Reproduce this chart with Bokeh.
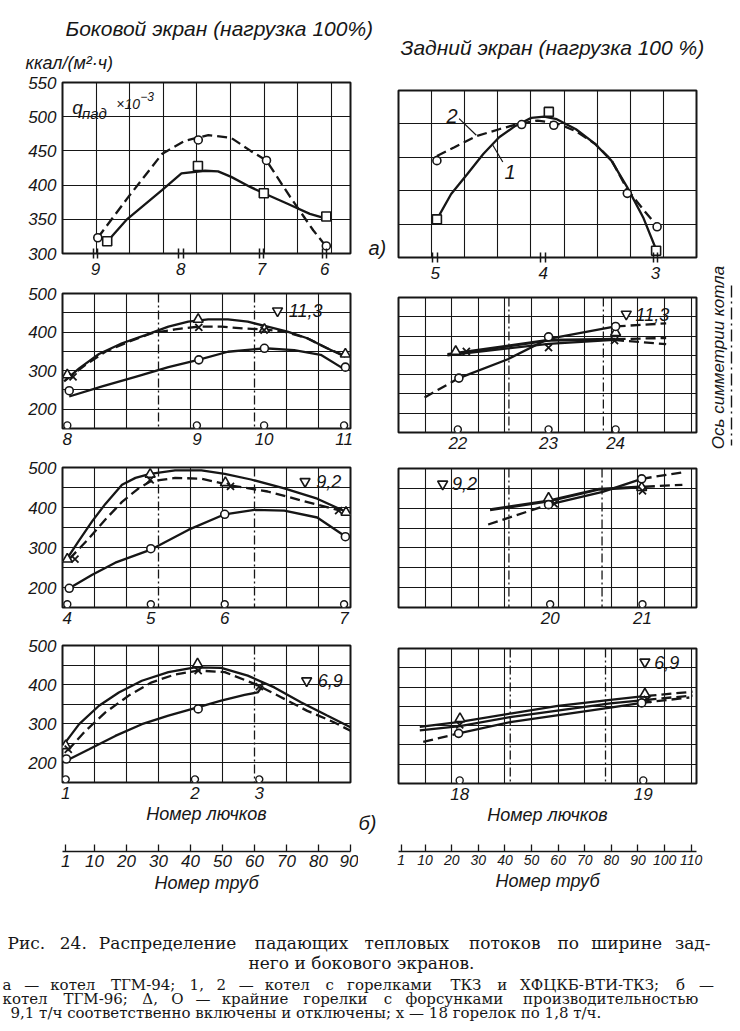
import numpy as np
from bokeh.plotting import figure
from bokeh.layouts import row, column
from bokeh.models import FixedTicker, Span, Label, Range1d
from bokeh.embed import file_html
from bokeh.resources import INLINE
from bokeh.core.properties import value

FONT = "Liberation Sans, Arial, sans-serif"
SERIF = "DejaVu Serif, Liberation Serif, serif"
INK = "#161616"

# ===================== DATA =====================
# ---- a) boiler TGM-94, side screen (x in grid cells, y in kcal/(m2 h) x 1e-3)
A_L_TICK_POS = [0.98, 3.52, 5.92, 7.80]
A_L_TICK_LAB = ["9", "8", "7", "6"]
A_L_SQ_X = [1.33, 4.03, 5.99, 7.85]
A_L_SQ_Y = [318, 428, 388, 354]
A_L_CI_X = [1.05, 4.04, 6.07, 7.85]
A_L_CI_Y = [323, 466, 436, 311]
A_L_C1_X = [1.34, 1.90, 2.97, 3.54, 4.24, 4.63, 5.02, 5.60, 5.99, 6.68, 7.36, 7.85]
A_L_C1_Y = [318, 349, 393, 417, 421, 420, 412, 397, 388, 373, 358, 351]
A_L_C2_X = [1.05, 1.95, 2.97, 3.65, 4.34, 5.02, 5.60, 6.07, 6.77, 7.46, 7.85]
A_L_C2_Y = [323, 382, 446, 465, 473, 469, 450, 436, 383, 334, 310]

# ---- a) boiler TGM-94, rear screen
A_R_TICK_POS = [1.11, 4.37, 7.76]
A_R_TICK_LAB = ["5", "4", "3"]
A_R_SQ_X = [1.16, 4.54, 7.78]
A_R_SQ_Y = [357, 518, 310]
A_R_CI_X = [1.16, 3.72, 4.69, 6.91, 7.81]
A_R_CI_Y = [445, 499, 498, 396, 346]
A_R_C1_X = [1.16, 1.59, 2.08, 2.56, 3.04, 3.53, 4.01, 4.40, 4.78, 5.36, 5.94, 6.43, 6.91, 7.39, 7.78]
A_R_C1_Y = [357, 395, 425, 455, 480, 497, 509, 511, 507, 492, 470, 445, 405, 360, 312]
A_R_C2_X = [1.16, 1.69, 2.37, 3.04, 3.62, 4.20, 4.78, 5.36, 5.94, 6.43, 6.91, 7.39, 7.81]
A_R_C2_Y = [452, 465, 482, 492, 500, 505, 501, 489, 470, 446, 402, 372, 347]
A_R_LEAD2_X = [1.83, 2.35]
A_R_LEAD2_Y = [508, 483]
A_R_LEAD1_X = [3.15, 2.85]
A_R_LEAD1_Y = [443, 468]

# ---- b) boiler TGM-96 (x = tube number)
HATCH_Y = 158
# side screen, load 11.3
B_L_TICK_POS = [1.5, 42, 63, 88]
B_L_TICK_LAB = ["8", "9", "10", "11"]
B_L_BURN = [30, 60]
B_L_TRI_X = [1.5, 42.4, 63.1, 88.4]
B_L_TRI_Y = [289, 433, 407, 343]
B_L_X_X = [3.3, 42.6, 63.0]
B_L_X_Y = [284, 412, 405]
B_L_CI_X = [2.1, 42.6, 63.1, 88.4]
B_L_CI_Y = [248, 328, 358, 309]
B_L_TRI_LX = [0.5, 5.2, 11.4, 18.6, 25.9, 33.1, 39.3, 45.5, 51.7, 57.9, 64.1, 70.3, 76.5, 82.7, 88.4]
B_L_TRI_LY = [272, 306, 343, 371, 392, 414, 427, 433, 433, 427, 414, 401, 384, 358, 336]
B_L_X_LX = [1.0, 7.2, 13.4, 20.7, 27.9, 35.2, 42.4, 49.6, 56.9, 63.1, 69.3, 76.5, 82.7, 88.4]
B_L_X_LY = [276, 315, 349, 375, 397, 407, 414, 414, 409, 407, 401, 384, 358, 338]
B_L_CI_LX = [2.1, 12.4, 22.8, 33.1, 42.4, 51.7, 63.1, 72.4, 80.7, 88.4]
B_L_CI_LY = [233, 259, 284, 309, 328, 349, 358, 353, 341, 302]
B_L_LOAD = ("11,3", 67.2, 455)

# rear screen, load 11.3
B_R_TICK_POS = [22.3, 56.4, 81.6]
B_R_TICK_LAB = ["22", "23", "24"]
B_R_BURN = [41.5, 77]
B_R_TRI_X = [21.5, 81.6]
B_R_TRI_Y = [360, 409]
B_R_X_X = [25.5, 56.4, 81.2]
B_R_X_Y = [360, 370, 388]
B_R_CI_X = [22.7, 56.4, 81.6]
B_R_CI_Y = [291, 398, 425]
B_R_TRI_LX = [18.4, 56.4, 81.6]
B_R_TRI_LY = [352, 389, 392]
B_R_TRI_EX = [81.6, 100.6]
B_R_TRI_EY = [392, 395]
B_R_X_LX = [18.4, 56.4, 81.0]
B_R_X_LY = [350, 380, 390]
B_R_X_EX = [81.0, 100.6]
B_R_X_EY = [390, 379]
B_R_CI_DX = [9.8, 22.7]
B_R_CI_DY = [241, 291]
B_R_CI_LX = [22.7, 41.1, 56.4, 81.6]
B_R_CI_LY = [291, 340, 393, 425]
B_R_CI_EX = [81.6, 100.6]
B_R_CI_EY = [425, 433]
B_R_LOAD = ("11,3", 85.6, 457)

# side screen, load 9.2
C_L_TICK_POS = [1.5, 27.6, 50.7, 88]
C_L_TICK_LAB = ["4", "5", "6", "7"]
C_L_BURN = [30, 60]
C_L_TRI_X = [1.5, 27.4, 50.9, 88.6]
C_L_TRI_Y = [271, 483, 462, 388]
C_L_X_X = [3.9, 27.4, 52.5, 86.3]
C_L_X_Y = [271, 469, 453, 392]
C_L_CI_X = [2.1, 27.6, 50.7, 88.4]
C_L_CI_Y = [198, 297, 383, 327]
C_L_TRI_LX = [1.0, 5.2, 9.3, 13.4, 18.6, 22.8, 27.4, 35.2, 43.4, 50.7, 58.9, 69.3, 79.6, 88.9]
C_L_TRI_LY = [267, 318, 366, 409, 457, 474, 484, 493, 493, 484, 470, 448, 422, 388]
C_L_X_LX = [2.1, 8.3, 13.4, 18.6, 23.8, 27.4, 35.2, 43.4, 52.7, 64.1, 74.5, 86.9]
C_L_X_LY = [271, 323, 370, 414, 448, 465, 474, 472, 455, 440, 418, 392]
C_L_CI_LX = [2.1, 9.3, 16.5, 27.4, 39.3, 50.7, 60.0, 69.3, 79.6, 88.9]
C_L_CI_LY = [198, 232, 262, 294, 344, 383, 394, 392, 375, 325]
C_L_LOAD = ("9,2", 75.8, 465)

# rear screen, load 9.2
C_R_TICK_POS = [57, 91.7]
C_R_TICK_LAB = ["20", "21"]
C_R_BURN = [41.5, 76.5]
C_R_TRI_X = [56.4, 91.4]
C_R_TRI_Y = [425, 452]
C_R_X_X = [58.5, 91.7]
C_R_X_Y = [411, 444]
C_R_CI_X = [56.4, 91.4]
C_R_CI_Y = [409, 474]
C_R_TRI_LX = [34.4, 56.4, 75.5, 92.6]
C_R_TRI_LY = [396, 418, 448, 454]
C_R_TRI_EX = [92.6, 106.7]
C_R_TRI_EY = [454, 459]
C_R_CI_DX = [33.7, 56.4]
C_R_CI_DY = [359, 409]
C_R_CI_LX = [56.4, 76.7, 91.4]
C_R_CI_LY = [409, 441, 474]
C_R_CI_EX = [91.4, 107.4]
C_R_CI_EY = [474, 491]
C_R_LOAD = ("9,2", 16.6, 461)

# side screen, load 6.9
D_L_TICK_POS = [1.0, 41.4, 61.5]
D_L_TICK_LAB = ["1", "2", "3"]
D_L_BURN = [60]
D_L_TRI_X = [1.0, 42.2]
D_L_TRI_Y = [244, 453]
D_L_X_X = [1.8, 42.4, 61.5]
D_L_X_Y = [235, 436, 395]
D_L_CI_X = [1.2, 42.4]
D_L_CI_Y = [210, 338]
D_L_TRI_LX = [0.5, 5.2, 11.4, 17.6, 24.8, 33.1, 41.4, 49.6, 57.9, 66.2, 74.5, 82.7, 90]
D_L_TRI_LY = [248, 299, 346, 380, 410, 432, 444, 443, 423, 393, 355, 321, 291]
D_L_X_LX = [1.5, 7.2, 13.4, 20.7, 27.9, 35.2, 42.4, 50.7, 60.0, 68.3, 76.5, 84.8, 90]
D_L_X_LY = [231, 282, 329, 372, 406, 426, 436, 432, 402, 368, 333, 304, 282]
D_L_CI_LX = [1.0, 8.3, 16.5, 24.8, 33.1, 41.4, 49.6, 56.9, 61.0, 62.6]
D_L_CI_LY = [205, 235, 269, 299, 321, 340, 359, 374, 380, 398]
D_L_LOAD = ("6,9", 76.3, 410)

# rear screen, load 6.9
D_R_TICK_POS = [23, 92]
D_R_TICK_LAB = ["18", "19"]
D_R_BURN = [42, 77.8]
D_R_TRI_X = [23.1, 92.6]
D_R_TRI_Y = [318, 382]
D_R_X_X = [23.0, 93.5]
D_R_X_Y = [302, 368]
D_R_CI_X = [22.6, 91.4]
D_R_CI_Y = [280, 359]
D_R_TRI_LX = [8.0, 23.1, 42.6, 59.9, 79.6, 93.2]
D_R_TRI_LY = [297, 310, 332, 351, 367, 377]
D_R_TRI_EX = [93.2, 110.5]
D_R_TRI_EY = [377, 388]
D_R_X_LX = [8.0, 23.1, 42.6, 79.6, 93.2]
D_R_X_LY = [288, 299, 323, 358, 367]
D_R_X_EX = [93.2, 110.5]
D_R_X_EY = [367, 378]
D_R_CI_DX = [9.3, 22.6]
D_R_CI_DY = [258, 280]
D_R_CI_LX = [22.6, 42.6, 79.6, 91.4]
D_R_CI_LY = [280, 310, 347, 359]
D_R_CI_EX = [91.4, 109.3]
D_R_CI_EY = [359, 373]
D_R_LOAD = ("6,9", 92.6, 465)

TUBES_LEFT = [1, 10, 20, 30, 40, 50, 60, 70, 80, 90]
TUBES_RIGHT = [1, 10, 20, 30, 40, 50, 60, 70, 80, 90, 100, 110]

TITLE_LEFT = "Боковой экран (нагрузка 100%)"
TITLE_RIGHT = "Задний экран (нагрузка 100 %)"
UNITS = "ккал/(м²·ч)"
CAPTION_1 = "Рис. 24. Распределение падающих тепловых потоков по ширине зад-"
CAPTION_2 = "него и бокового экранов."
CAPTION_3 = "а — котел ТГМ-94; 1, 2 — котел с горелками ТКЗ и ХФЦКБ-ВТИ-ТКЗ; б —"
CAPTION_4 = "котел ТГМ-96; Δ, О — крайние горелки с форсунками производительностью"
CAPTION_5 = "9,1 т/ч соответственно включены и отключены; х — 18 горелок по 1,8 т/ч."

# ===================== HELPERS =====================
def style_text(ax, size="17px"):
    ax.major_label_text_font = FONT
    ax.major_label_text_font_style = "italic"
    ax.major_label_text_font_size = size
    ax.major_label_text_color = INK


def blank(w, h, xr, yr):
    p = figure(width=w, height=h, x_range=Range1d(*xr), y_range=Range1d(*yr),
               output_backend="svg", toolbar_location=None, min_border=0)
    p.axis.visible = False
    p.grid.visible = False
    p.outline_line_color = None
    p.background_fill_color = "white"
    p.border_fill_color = "white"
    return p


def panel(w, h, xr, yr, borders, xgrid, ygrid, tick_pos, tick_lab,
          yticks=None, burners=(), double=False, xlabel=None):
    bl, br, bt, bb = borders
    p = figure(width=w, height=h, x_range=Range1d(*xr), y_range=Range1d(*yr),
               output_backend="svg", toolbar_location=None,
               min_border_left=bl, min_border_right=br,
               min_border_top=bt, min_border_bottom=bb)
    p.background_fill_color = "white"
    p.border_fill_color = "white"
    p.outline_line_color = INK
    p.outline_line_width = 2
    p.xgrid.ticker = FixedTicker(ticks=xgrid)
    p.ygrid.ticker = FixedTicker(ticks=ygrid)
    p.grid.grid_line_color = INK
    p.grid.grid_line_width = 1.1
    p.grid.grid_line_alpha = 1.0
    ax = p.xaxis[0]
    ax.major_tick_in = 0
    ax.major_tick_out = 0
    ax.major_tick_line_color = None
    if double:
        minor = [t - 0.07 for t in tick_pos] + [t + 0.07 for t in tick_pos]
        ax.ticker = FixedTicker(ticks=tick_pos, minor_ticks=minor)
        ax.minor_tick_in = 5
        ax.minor_tick_out = 5
        ax.minor_tick_line_color = INK
        ax.minor_tick_line_width = 1.5
    else:
        ax.ticker = FixedTicker(ticks=tick_pos)
        ax.minor_tick_line_color = None
    ax.axis_line_color = None
    ax.major_label_overrides = dict(zip(tick_pos, tick_lab))
    ax.major_label_standoff = 4
    style_text(ax)
    if xlabel:
        ax.axis_label = xlabel
        ax.axis_label_standoff = 2
        ax.axis_label_text_font = FONT
        ax.axis_label_text_font_style = "italic"
        ax.axis_label_text_font_size = "18px"
        ax.axis_label_text_color = INK
    yax = p.yaxis[0]
    if yticks:
        yax.ticker = FixedTicker(ticks=yticks)
        yax.major_tick_in = 0
        yax.major_tick_out = 0
        yax.major_tick_line_color = None
        yax.minor_tick_line_color = None
        yax.axis_line_color = None
        yax.major_label_standoff = 6
        style_text(yax)
    else:
        yax.visible = False
    for b in burners:
        p.add_layout(Span(location=b, dimension="height", line_color=INK,
                          line_width=1.3, line_dash="9 3 2 3", level="underlay"))
    return p


def solid(p, x, y, w=2.3):
    p.line(x, y, line_color=INK, line_width=w)


def dashed(p, x, y, w=2.3):
    p.line(x, y, line_color=INK, line_width=w, line_dash="10 5")


def pts(p, x, y, marker, size=8):
    p.scatter(x, y, marker=marker, size=size, fill_color="white",
              line_color=INK, line_width=1.6)


def crosses(p, x, y):
    p.scatter(x, y, marker="x", size=10, line_color=INK, line_width=1.8)


def lab(p, x, y, text, size="18px", align="left", style="italic", angle=0, font=FONT):
    p.add_layout(Label(x=x, y=y, text=text, text_font=font, text_font_style=style,
                       text_font_size=size, text_color=INK, text_baseline="middle",
                       text_align=align, angle=angle))


def load_mark(p, spec, dx):
    txt, x, y = spec
    p.scatter([x], [y], marker="inverted_triangle", size=10, fill_color="white",
              line_color=INK, line_width=1.6)
    lab(p, x + dx, y, txt, size="18px")


def hatches(p, xs):
    p.scatter(xs, [HATCH_Y] * len(xs), marker="circle", size=7,
              fill_color="white", line_color=INK, line_width=1.4)


Y_B = [150, 200, 250, 300, 350, 400, 450, 500]
Y_B_TICKS = [200, 300, 400, 500]
XG_L = [10, 20, 40, 50, 70, 80]
XG_R = [10, 20, 30, 40, 50, 60, 70, 80, 90, 100, 110]
LW, RW = 358, 320   # column widths

# ===================== header =====================
head = blank(738, 72, (0, 738), (72, 0))
lab(head, 65, 28, TITLE_LEFT, size="21px")
lab(head, 400, 47, TITLE_RIGHT, size="21px")
lab(head, 25, 62, UNITS, size="18px")

# ===================== ROW a) =====================
aL = panel(LW, 211, (0, 8.57), (300, 550), (62, 3, 10, 30),
           [1, 2, 3, 4, 5, 6, 7, 8], [350, 400, 450, 500],
           A_L_TICK_POS, A_L_TICK_LAB, yticks=[300, 350, 400, 450, 500, 550], double=True)
solid(aL, A_L_C1_X, A_L_C1_Y)
dashed(aL, A_L_C2_X, A_L_C2_Y)
pts(aL, A_L_SQ_X, A_L_SQ_Y, "square", 9)
pts(aL, A_L_CI_X, A_L_CI_Y, "circle", 8)
lab(aL, 0.29, 514, "q", size="19px")
lab(aL, 0.58, 505, "пад", size="15px")
lab(aL, 1.60, 519, "×10", size="14px")
lab(aL, 2.31, 530, "−3", size="12px")

aR = panel(RW, 211, (0, 9), (300, 550), (8, 2, 18, 26),
           [1, 2, 3, 4, 5, 6, 7, 8], [350, 400, 450, 500],
           A_R_TICK_POS, A_R_TICK_LAB, double=True)
solid(aR, A_R_C1_X, A_R_C1_Y)
dashed(aR, A_R_C2_X, A_R_C2_Y)
aR.line(A_R_LEAD2_X, A_R_LEAD2_Y, line_color=INK, line_width=1.2)
aR.line(A_R_LEAD1_X, A_R_LEAD1_Y, line_color=INK, line_width=1.2)
pts(aR, A_R_SQ_X, A_R_SQ_Y, "square", 9)
pts(aR, A_R_CI_X, A_R_CI_Y, "circle", 8)
lab(aR, 1.45, 512, "2", size="20px")
lab(aR, 3.2, 428, "1", size="20px")

# ===================== ROW b) 11.3 =====================
bL = panel(LW, 172, (0, 90), (150, 500), (60, 8, 10, 27), XG_L, Y_B,
           B_L_TICK_POS, B_L_TICK_LAB, yticks=Y_B_TICKS, burners=B_L_BURN)
solid(bL, B_L_TRI_LX, B_L_TRI_LY)
dashed(bL, B_L_X_LX, B_L_X_LY)
solid(bL, B_L_CI_LX, B_L_CI_LY)
pts(bL, B_L_TRI_X, B_L_TRI_Y, "triangle", 10)
crosses(bL, B_L_X_X, B_L_X_Y)
pts(bL, B_L_CI_X, B_L_CI_Y, "circle")
hatches(bL, B_L_TICK_POS)
load_mark(bL, B_L_LOAD, 3.5)

bR = panel(RW, 172, (0, 112), (150, 500), (6, 10, 14, 23), XG_R, Y_B,
           B_R_TICK_POS, B_R_TICK_LAB, burners=B_R_BURN)
solid(bR, B_R_TRI_LX, B_R_TRI_LY, 3)
dashed(bR, B_R_TRI_EX, B_R_TRI_EY)
solid(bR, B_R_X_LX, B_R_X_LY)
dashed(bR, B_R_X_EX, B_R_X_EY)
dashed(bR, B_R_CI_DX, B_R_CI_DY)
solid(bR, B_R_CI_LX, B_R_CI_LY)
dashed(bR, B_R_CI_EX, B_R_CI_EY)
pts(bR, B_R_TRI_X, B_R_TRI_Y, "triangle", 10)
crosses(bR, B_R_X_X, B_R_X_Y)
pts(bR, B_R_CI_X, B_R_CI_Y, "circle")
hatches(bR, B_R_TICK_POS)
load_mark(bR, B_R_LOAD, 3.5)

# ===================== ROW c) 9.2 =====================
cL = panel(LW, 173, (0, 90), (150, 500), (60, 8, 12, 21), XG_L, Y_B,
           C_L_TICK_POS, C_L_TICK_LAB, yticks=Y_B_TICKS, burners=C_L_BURN)
solid(cL, C_L_TRI_LX, C_L_TRI_LY)
dashed(cL, C_L_X_LX, C_L_X_LY)
solid(cL, C_L_CI_LX, C_L_CI_LY)
pts(cL, C_L_TRI_X, C_L_TRI_Y, "triangle", 10)
crosses(cL, C_L_X_X, C_L_X_Y)
pts(cL, C_L_CI_X, C_L_CI_Y, "circle")
hatches(cL, C_L_TICK_POS)
load_mark(cL, C_L_LOAD, 3.5)

cR = panel(RW, 173, (0, 112), (150, 500), (6, 10, 13, 21), XG_R, Y_B,
           C_R_TICK_POS, C_R_TICK_LAB, burners=C_R_BURN)
solid(cR, C_R_TRI_LX, C_R_TRI_LY, 3)
dashed(cR, C_R_TRI_EX, C_R_TRI_EY)
dashed(cR, C_R_CI_DX, C_R_CI_DY)
solid(cR, C_R_CI_LX, C_R_CI_LY)
dashed(cR, C_R_CI_EX, C_R_CI_EY)
pts(cR, C_R_TRI_X, C_R_TRI_Y, "triangle", 10)
crosses(cR, C_R_X_X, C_R_X_Y)
pts(cR, C_R_CI_X, C_R_CI_Y, "circle")
hatches(cR, C_R_TICK_POS)
load_mark(cR, C_R_LOAD, 3.5)

# ===================== ROW d) 6.9 =====================
dL = panel(LW, 202, (0, 90), (150, 500), (60, 8, 17, 48), [10, 20, 30, 40, 50, 70, 80], Y_B,
           D_L_TICK_POS, D_L_TICK_LAB, yticks=Y_B_TICKS, burners=D_L_BURN,
           xlabel="Номер лючков")
solid(dL, D_L_TRI_LX, D_L_TRI_LY)
dashed(dL, D_L_X_LX, D_L_X_LY)
solid(dL, D_L_CI_LX, D_L_CI_LY)
pts(dL, D_L_TRI_X, D_L_TRI_Y, "triangle", 10)
crosses(dL, D_L_X_X, D_L_X_Y)
pts(dL, D_L_CI_X, D_L_CI_Y, "circle")
hatches(dL, D_L_TICK_POS)
load_mark(dL, D_L_LOAD, 3.5)

dR = panel(RW, 202, (0, 112), (150, 500), (6, 10, 20, 47), XG_R, Y_B,
           D_R_TICK_POS, D_R_TICK_LAB, burners=D_R_BURN, xlabel="Номер лючков")
solid(dR, D_R_TRI_LX, D_R_TRI_LY)
dashed(dR, D_R_TRI_EX, D_R_TRI_EY)
solid(dR, D_R_X_LX, D_R_X_LY)
dashed(dR, D_R_X_EX, D_R_X_EY)
dashed(dR, D_R_CI_DX, D_R_CI_DY)
solid(dR, D_R_CI_LX, D_R_CI_LY)
dashed(dR, D_R_CI_EX, D_R_CI_EY)
pts(dR, D_R_TRI_X, D_R_TRI_Y, "triangle", 10)
crosses(dR, D_R_X_X, D_R_X_Y)
pts(dR, D_R_CI_X, D_R_CI_Y, "circle")
hatches(dR, D_R_TICK_POS)
load_mark(dR, D_R_LOAD, 3.5)

# ===================== tube-number scales =====================
def scale_fig(w, xr, bl, br, ticks, size):
    p = figure(width=w, height=65, x_range=Range1d(*xr), y_range=Range1d(0, 1),
               output_backend="svg", toolbar_location=None,
               min_border_left=bl, min_border_right=br, min_border_top=12, min_border_bottom=44)
    p.outline_line_color = None
    p.grid.visible = False
    p.yaxis.visible = False
    p.background_fill_color = "white"
    p.border_fill_color = "white"
    ax = p.xaxis[0]
    ax.ticker = FixedTicker(ticks=ticks)
    ax.major_tick_in = 7
    ax.major_tick_out = 0
    ax.major_tick_line_color = INK
    ax.major_tick_line_width = 1.3
    ax.minor_tick_line_color = None
    ax.axis_line_color = INK
    ax.axis_line_width = 1.6
    ax.major_label_standoff = 3
    style_text(ax, size)
    ax.axis_label = "Номер труб"
    ax.axis_label_standoff = 3
    ax.axis_label_text_font = FONT
    ax.axis_label_text_font_style = "italic"
    ax.axis_label_text_font_size = "18px"
    ax.axis_label_text_color = INK
    return p


sL = scale_fig(LW, (0, 90), 60, 8, TUBES_LEFT, "17px")
sR = scale_fig(RW, (0, 112), 6, 14, TUBES_RIGHT, "14px")

# ===================== strips between/after columns =====================
ROWS_H = 211 + 172 + 173 + 202 + 65
strip = blank(32, ROWS_H, (0, 32), (ROWS_H, 0))
lab(strip, 10, 175, "а)", size="20px")
lab(strip, 0, 750, "б)", size="20px")

sym = blank(28, ROWS_H, (0, 28), (ROWS_H, 0))
SYM_LINE_X = [21, 21]
SYM_LINE_Y = [213, 373]
sym.line(SYM_LINE_X, SYM_LINE_Y, line_color=INK, line_width=1.4, line_dash="12 4 2 4")
lab(sym, 8, 285, "Ось симметрии котла", size="17px", align="center", angle=np.pi / 2)

# ===================== caption =====================
cap = blank(738, 128, (0, 738), (128, 0))

WIDE = set("жмшщыюфЖМШЩЮФЫ")
MID = set("ипнцчйлдкьъбвяИПНЦЧЙЛДКБВЯ")


def char_w(ch):
    if ch in ".,;:": return 0.32
    if ch == "—": return 0.9
    if ch in "-/": return 0.36
    if ch.isdigit(): return 0.64
    if ch in WIDE: return 0.93
    if ch.isupper(): return 0.76
    if ch in MID: return 0.69
    return 0.61


def put_line(line, y, x0, x1, px):
    words = line.split(" ")
    widths = [sum(char_w(c) for c in w) * px for w in words]
    gap = (x1 - x0 - sum(widths)) / (len(words) - 1)
    xs, x = [], x0
    for wd in widths:
        xs.append(x)
        x += wd + gap
    cap.text(x=xs, y=[y] * len(xs), text=words, text_font=value(SERIF),
             text_font_size=value(f"{px}px"), text_baseline="middle",
             text_align="left", text_color=INK)


put_line(CAPTION_1, 47, 7, 713, 17)
cap.text(x=[361], y=[67], text=[CAPTION_2], text_font=value(SERIF),
         text_font_size=value("17px"), text_baseline="middle", text_align="center",
         text_color=INK)
put_line(CAPTION_3, 89, 2, 712, 15)
put_line(CAPTION_4, 103, 2, 712, 15)
cap.text(x=[10], y=[117], text=[CAPTION_5], text_font=value(SERIF),
         text_font_size=value("15px"), text_baseline="middle", text_align="left",
         text_color=INK)

layout = column(
    head,
    row(column(aL, bL, cL, dL, sL), strip, column(aR, bR, cR, dR, sR), sym),
    cap,
)

open("out.html", "w").write(file_html(layout, INLINE))
